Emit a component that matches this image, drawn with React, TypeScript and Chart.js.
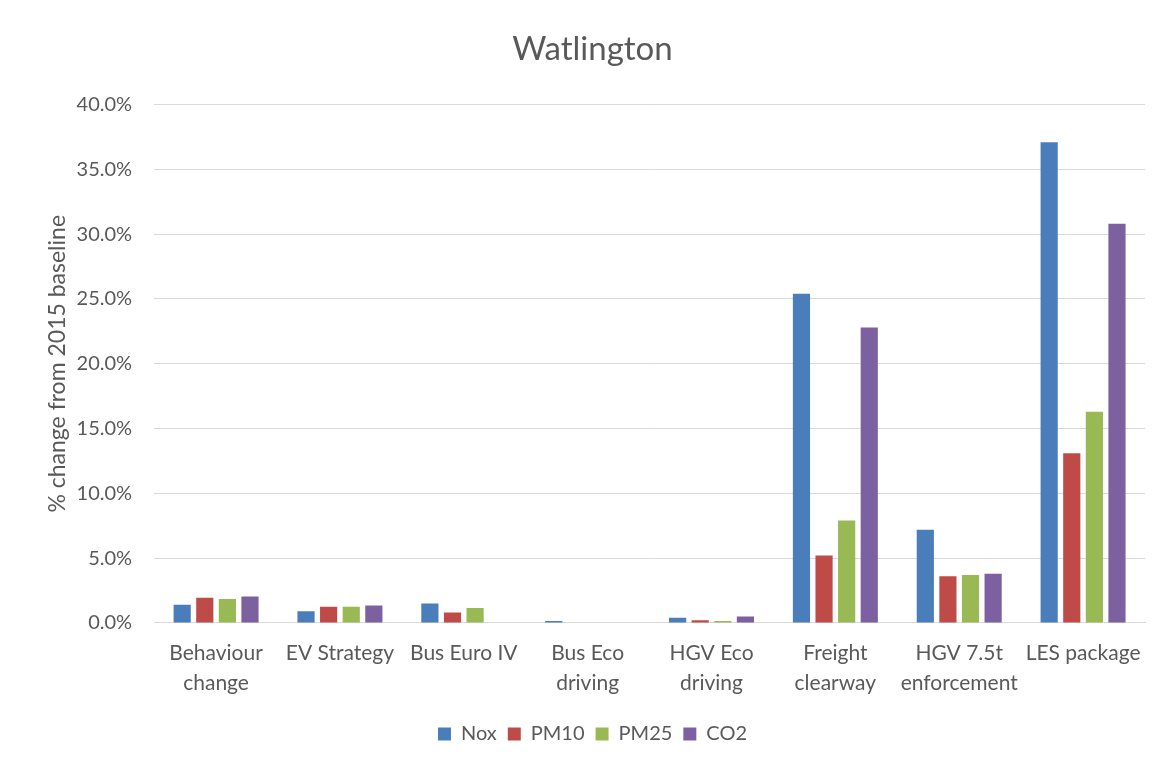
import React, { useEffect, useRef } from "react";
import { Chart, registerables } from "chart.js";

Chart.register(...registerables);

const categories: string[][] = [
  ["Behaviour", "change"],
  ["EV Strategy"],
  ["Bus Euro IV"],
  ["Bus Eco", "driving"],
  ["HGV Eco", "driving"],
  ["Freight", "clearway"],
  ["HGV 7.5t", "enforcement"],
  ["LES package"],
];

const noxValues = [1.4, 0.9, 1.5, 0.15, 0.4, 25.4, 7.2, 37.1];
const pm10Values = [1.95, 1.25, 0.8, 0, 0.2, 5.2, 3.6, 13.1];
const pm25Values = [1.85, 1.25, 1.15, 0, 0.15, 7.9, 3.7, 16.3];
const co2Values = [2.05, 1.35, 0, 0, 0.5, 22.8, 3.8, 30.8];

const seriesNames = ["Nox", "PM10", "PM25", "CO2"];
const seriesColors = ["#4a7ebb", "#be4b48", "#98b954", "#7d60a0"];

export default function App() {
  const canvasRef = useRef<HTMLCanvasElement | null>(null);

  useEffect(() => {
    if (!canvasRef.current) return;
    const allValues = [noxValues, pm10Values, pm25Values, co2Values];
    const chart = new Chart(canvasRef.current, {
      type: "bar",
      data: {
        labels: categories,
        datasets: allValues.map((vals, i) => ({
          label: seriesNames[i],
          data: vals,
          backgroundColor: seriesColors[i],
          borderWidth: 0,
          categoryPercentage: 0.73,
          barPercentage: 0.76,
        })),
      },
      options: {
        animation: false,
        responsive: false,
        maintainAspectRatio: false,
        layout: { padding: { left: 32, right: 20, top: 0, bottom: 11 } },
        plugins: {
          title: {
            display: true,
            text: "Watlington",
            color: "#595959",
            font: { family: "Lato", size: 33, weight: "normal" },
            padding: { top: 22, bottom: 35 },
          },
          legend: {
            position: "bottom",
            labels: {
              color: "#595959",
              font: { family: "Lato", size: 20 },
              boxWidth: 13,
              boxHeight: 13,
              padding: 11,
            },
          },
          tooltip: { enabled: false },
        },
        scales: {
          x: {
            grid: { display: false, drawTicks: false },
            border: { color: "#d9d9d9" },
            ticks: {
              color: "#595959",
              font: { family: "Lato", size: 21, lineHeight: 1.43 },
              maxRotation: 0,
              autoSkip: false,
              padding: 15,
            },
          },
          y: {
            min: 0,
            max: 40,
            grid: { color: "#d9d9d9", drawTicks: false },
            border: { display: false },
            ticks: {
              stepSize: 5,
              color: "#595959",
              font: { family: "Lato", size: 20 },
              padding: 22,
              callback: (v: any) => Number(v).toFixed(1) + "%",
            },
            title: {
              display: true,
              text: "% change from 2015 baseline",
              color: "#595959",
              font: { family: "Lato", size: 23 },
              padding: { top: 4, bottom: -17 },
            },
          },
        },
      },
    });
    return () => chart.destroy();
  }, []);

  return (
    <div
      style={{
        width: 1200,
        height: 800,
        borderLeft: "1px solid #d9d9d9",
        borderTop: "1px solid #d9d9d9",
        marginLeft: -1,
        marginTop: -1,
        background: "#fff",
      }}
    >
      <canvas ref={canvasRef} width={1157} height={757} style={{ display: "block" }} />
    </div>
  );
}
